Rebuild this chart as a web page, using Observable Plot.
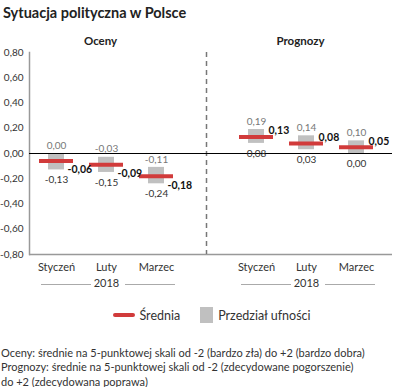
<!DOCTYPE html>
<html><head><meta charset="utf-8">
<script src="https://cdn.jsdelivr.net/npm/d3@7"></script>
<script src="https://cdn.jsdelivr.net/npm/@observablehq/plot@0.6"></script>
<style>
body{margin:0;font-family:Lato,sans-serif;background:#fff;color:#222;width:400px;overflow:hidden;}
#title{font-weight:bold;font-size:14.5px;padding:5px 0 0 3px;height:19px;line-height:16px;}
#chart svg{display:block;}
#legend{display:flex;justify-content:center;align-items:center;gap:0;height:26px;margin-top:8px;font-size:12.5px;color:#333;padding-left:24px;}
.lg-line{display:inline-block;width:22px;height:4px;background:#d13b3b;border-radius:2px;margin-right:4px;}
.lg-box{display:inline-block;width:13px;height:16px;background:#c0c0c0;margin:0 5px 0 20px;}
#caption{font-size:11px;line-height:14.3px;color:#333;margin-top:18px;padding-left:1px;}
</style></head><body>
<div id="title">Sytuacja polityczna w Polsce</div>
<div id="chart"></div>
<div id="legend"><span class="lg-line"></span><span>Średnia</span><span class="lg-box"></span><span>Przedział ufności</span></div>
<div id="caption">Oceny: średnie na 5-punktowej skali od -2 (bardzo zła) do +2 (bardzo dobra)<br>Prognozy: średnie na 5-punktowej skali od -2 (zdecydowane pogorszenie)<br>do +2 (zdecydowana poprawa)</div>
<script>
const groups = ["Oceny", "Prognozy"];
const groupKeys = ["O", "P"];
const months = ["Styczeń", "Luty", "Marzec"];
const year = "2018";
const ocenyMean = [-0.06, -0.09, -0.18];
const ocenyLow = [-0.13, -0.15, -0.24];
const ocenyHigh = [0.00, -0.03, -0.11];
const prognozyMean = [0.13, 0.08, 0.05];
const prognozyLow = [0.08, 0.03, 0.00];
const prognozyHigh = [0.19, 0.14, 0.10];
const yTicks = [-0.8, -0.6, -0.4, -0.2, 0, 0.2, 0.4, 0.6, 0.8];

const series = [
  {g: "O", mean: ocenyMean, low: ocenyLow, high: ocenyHigh},
  {g: "P", mean: prognozyMean, low: prognozyLow, high: prognozyHigh}
];
const rows = series.flatMap(s => months.map((m, i) => ({
  key: s.g + "-" + m, month: m, mean: s.mean[i], low: s.low[i], high: s.high[i]
})));
const spacer = " ";
const xDomain = [...months.map(m => "O-" + m), spacer, ...months.map(m => "P-" + m)];
const groupRows = groups.map((g, i) => ({
  label: g, first: groupKeys[i] + "-" + months[0], mid: groupKeys[i] + "-" + months[1], last: groupKeys[i] + "-" + months[2]
}));
const fmt = v => v.toFixed(2).replace(".", ",").replace("-0,00", "0,00");
const yMin = yTicks[0], yMax = yTicks[yTicks.length - 1];

const plot = Plot.plot({
  width: 400,
  height: 270,
  marginLeft: 29,
  marginRight: 8,
  marginTop: 28,
  marginBottom: 40,
  style: {fontFamily: "Lato, sans-serif", color: "#333", overflow: "visible"},
  x: {type: "band", domain: xDomain, padding: 0, insetRight: 10, axis: null},
  y: {domain: [yMin, yMax], axis: null},
  marks: [
    Plot.ruleY([yMin], {stroke: "#999", strokeWidth: 1.5}),
    Plot.frame({anchor: "left", stroke: "#999", strokeWidth: 1.5}),
    Plot.ruleX([spacer], {stroke: "#777", strokeWidth: 1.5, strokeDasharray: "5,4"}),
    Plot.barY(rows, {x: "key", y1: "low", y2: "high", fill: "#c0c0c0", insetLeft: 17, insetRight: 17}),
    Plot.ruleY([0], {stroke: "#000", strokeWidth: 1}),
    Plot.tickY(rows, {x: "key", y: "mean", stroke: "#d13b3b", strokeWidth: 4, insetLeft: 8, insetRight: 8}),
    Plot.text(rows, {x: "key", y: "high", text: d => fmt(d.high), dy: -8, fill: "#777", fontSize: 10}),
    Plot.text(rows, {x: "key", y: "low", text: d => fmt(d.low), dy: 10, fill: "#333", fontSize: 10}),
    Plot.text(rows.filter(d => d.mean < 0), {x: "key", y: "mean", text: d => fmt(d.mean), dx: 11, dy: 9, textAnchor: "start", fontWeight: "bold", fill: "#111", fontSize: 10.5}),
    Plot.text(rows.filter(d => d.mean >= 0), {x: "key", y: "mean", text: d => fmt(d.mean), dx: 12, dy: -6, textAnchor: "start", fontWeight: "bold", fill: "#111", fontSize: 10.5}),
    Plot.axisY({ticks: yTicks, tickSize: 0, tickPadding: 6, tickFormat: fmt, fontSize: 10, fill: "#333"}),
    Plot.axisX({ticks: xDomain.filter(k => k !== spacer), tickSize: 0, tickPadding: 9, fontSize: 11, fill: "#333", tickFormat: k => k.slice(2)}),
    Plot.axisX({ticks: groupRows.map(d => d.mid), tickSize: 0, tickPadding: 25, fontSize: 11, fill: "#333", tickFormat: () => year}),
    Plot.ruleY(groupRows, {x1: "first", x2: "first", y: () => yMin, dy: 30, dx: 10, stroke: "#aaa"}),
    Plot.ruleY(groupRows, {x1: "last", x2: "last", y: () => yMin, dy: 30, dx: -6, stroke: "#aaa"}),
    Plot.text(groupRows, {x: "mid", y: () => yMax, text: "label", dy: -11, dx: -6, fontWeight: "bold", fontSize: 11.5, fill: "#222"})
  ]
});
document.getElementById("chart").appendChild(plot);
</script>
</body></html>
